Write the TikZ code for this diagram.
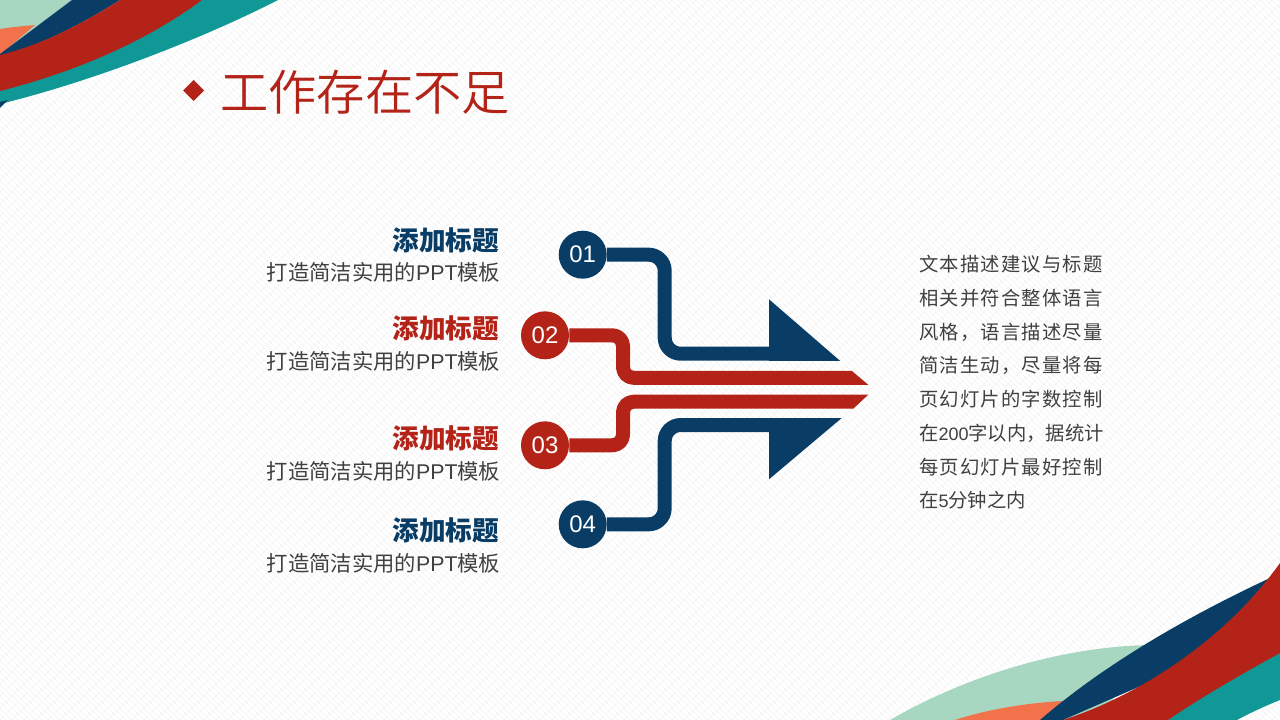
\documentclass[tikz,border=0pt]{standalone}
\usepackage{fontspec}
\setmainfont{Noto Sans CJK SC}
\newfontfamily\latinfont{Liberation Sans}
\newfontfamily\wideset[LetterSpace=6.2]{Noto Sans CJK SC}
\newfontfamily\titlefont{Noto Sans CJK SC DemiLight}
\usetikzlibrary{positioning}
\definecolor{navy}{HTML}{093D66}
\definecolor{brick}{HTML}{B42318}
\definecolor{teal}{HTML}{109896}
\definecolor{mint}{HTML}{A7D6C1}
\definecolor{coral}{HTML}{F2734B}
\definecolor{hatch}{HTML}{F4F4F4}
\definecolor{graytext}{HTML}{404040}
\newcommand{\subtitletext}{打造简洁实用的{\latinfont PPT}模板}
\newcommand{\bodydigits}[1]{{\latinfont\fontsize{13.5}{25.3}\selectfont #1}}
\tikzset{
  pipe/.style={line width=10.5pt,line join=round},
  numdot/.style={circle,minimum size=36pt,inner sep=0pt,text=white,font=\latinfont\fontsize{18}{18}\selectfont},
  headtext/.style={anchor=east,inner sep=0pt,font=\fontsize{20}{20}\selectfont\bfseries},
  subtext/.style={anchor=east,inner sep=0pt,text=graytext,font=\fontsize{16}{16}\selectfont},
}
\begin{document}
\begin{tikzpicture}[x=0.75pt,y=-0.75pt]
  \useasboundingbox (0,0) rectangle (1280,720);
  \clip (0,0) rectangle (1280,720);
  \fill[white] (0,0) rectangle (1280,720);
  \foreach \k in {-720,-714,...,1280}
    \draw[hatch,line width=0.4pt] (\k,0) -- (\k+720,720);
  \foreach \k in {0,12,...,2000}
    \draw[hatch,line width=0.4pt] (\k,0) -- (\k-720,720);

  % top left corner
  \fill[mint] (0,0) -- (72,0) -- (0,54) -- cycle;
  \fill[coral] (0,29) .. controls (12,27) and (24,26) .. (35,25) -- (0,55) -- cycle;
  \fill[teal] (278,0) .. controls (200,40) and (90,82) .. (0,104) -- (0,88) -- (202,0) -- cycle;
  \fill[navy] (8,100) -- (0,108) -- (0,102) -- cycle;
  \fill[navy] (72,0) -- (0,54) -- (0,56) .. controls (45,44) and (85,22) .. (120,0) -- cycle;
  \fill[brick] (120,0) .. controls (85,22) and (45,44) .. (0,55) -- (0,91) .. controls (75,72) and (145,42) .. (202,0) -- cycle;

  % bottom right corner
  \fill[mint] (890,720) .. controls (945,688) and (1040,648) .. (1147,645) -- (1100,720) -- cycle;
  \fill[coral] (955,720) .. controls (985,710) and (1025,703) .. (1063,701) -- (1045,720) -- cycle;
  \fill[teal] (1168,720) -- (1240,660) -- (1280,640) -- (1280,700) .. controls (1265,706) and (1250,713) .. (1237,720) -- cycle;
  \fill[navy] (1040,720) .. controls (1100,668) and (1180,620) .. (1270,578) -- (1200,660) -- (1063,720) -- cycle;
  \fill[brick] (1280,563) -- (1280,653) .. controls (1240,675) and (1200,698) .. (1168,720) -- (1063,720) .. controls (1140,695) and (1225,640) .. (1280,563) -- cycle;

  % title
  \fill[brick] (193.5,80) -- (204,90.5) -- (193.5,101) -- (183,90.5) -- cycle;
  \node (title) [anchor=west,inner sep=0pt,text=brick,font=\titlefont\fontsize{36.2}{36}\selectfont] at (220,92) {工作存在不足};

  % number dots
  \node (dot1) [numdot,fill=navy] at (582.7,254.7) {01};
  \node (dot2) [numdot,fill=brick] at (545,335.3) {02};
  \node (dot3) [numdot,fill=brick] at (545,445.3) {03};
  \node (dot4) [numdot,fill=navy] at (582.7,524.3) {04};

  \coordinate (end1) at (771,353.7);
  \coordinate (end2) at (852,377.8);
  \coordinate (end3) at (852,401.7);
  \coordinate (end4) at (771,425);

  \draw[pipe,navy,rounded corners=12pt] (dot1) -- (664.7,254.7) -- (664.7,353.7) -- (end1);
  \draw[pipe,brick,rounded corners=8pt] (dot2) -- (623,335.3) -- (623,377.8) -- (end2);
  \draw[pipe,brick,rounded corners=8pt] (dot3) -- (623,445.3) -- (623,401.7) -- (end3);
  \draw[pipe,navy,rounded corners=12pt] (dot4) -- (664.7,524.3) -- (664.7,425) -- (end4);

  % arrow heads
  \fill[navy] (769,299.3) -- (840,360.8) -- (769,360.8) -- cycle;
  \fill[navy] (769,418) -- (841.7,418) -- (769,479.3) -- cycle;
  \fill[brick] (851.7,370.8) -- (868.3,384.8) -- (851.7,384.8) -- cycle;
  \fill[brick] (851.7,394.7) -- (868.3,394.7) -- (853.3,408.7) -- (851.7,408.7) -- cycle;

  % left column
  \node (head1) [headtext,text=navy] at (499.5,240) {添加标题};
  \node (sub1) [subtext] at (500.5,272) {\subtitletext};
  \node (head2) [headtext,text=brick] at (499.5,328) {添加标题};
  \node (sub2) [subtext] at (500.5,361) {\subtitletext};
  \node (head3) [headtext,text=brick] at (499.5,438) {添加标题};
  \node (sub3) [subtext] at (500.5,471) {\subtitletext};
  \node (head4) [headtext,text=navy] at (499.5,530) {添加标题};
  \node (sub4) [subtext] at (500.5,563) {\subtitletext};

  % right column
  \node (body) [anchor=north west,inner sep=0pt,align=left,text=graytext,font=\fontsize{14.5}{25.3}\selectfont] at (919,255) {{\wideset 文本描述建议与标题}\\{\wideset 相关并符合整体语言}\\{\wideset 风格，语言描述尽量}\\{\wideset 简洁生动，尽量将每}\\{\wideset 页幻灯片的字数控制}\\在\bodydigits{200}字以内，据统计\\{\wideset 每页幻灯片最好控制}\\在\bodydigits{5}分钟之内};
\end{tikzpicture}
\end{document}
